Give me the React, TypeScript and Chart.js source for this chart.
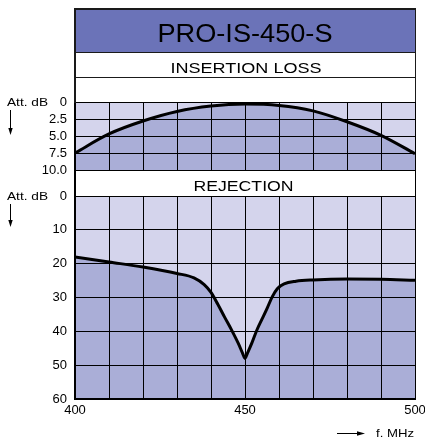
import React, { useEffect, useRef } from 'react';
import { Chart, registerables } from 'chart.js';

Chart.register(...registerables);

// ---- texts ----
const chartTitle = 'PRO-IS-450-S';
const lossTitle = 'INSERTION LOSS';
const rejectionTitle = 'REJECTION';
const yAxisName = 'Att. dB';
const xAxisName = 'f. MHz';

// ---- ticks ----
const freqTicks = [400, 410, 420, 430, 440, 450, 460, 470, 480, 490, 500];
const freqTickLabels = ['400', '', '', '', '', '450', '', '', '', '', '500'];
const lossTicks = [0, 2.5, 5, 7.5, 10];
const lossTickLabels = ['0', '2.5', '5.0', '7.5', '10.0'];
const rejectionTicks = [0, 10, 20, 30, 40, 50, 60];
const rejectionTickLabels = ['0', '10', '20', '30', '40', '50', '60'];

// ---- series ----
const lossFreq = [400, 410, 420, 430, 440, 450, 460, 470, 480, 490, 500];
const lossValues = [7.5, 4.7, 2.8, 1.4, 0.6, 0.3, 0.5, 1.3, 2.9, 4.9, 7.6];

const rejectionFreq = [400, 410, 420, 430, 435, 438, 440, 442, 444, 446, 448, 449.3, 450, 450.7, 452, 453.5, 455, 456.5, 458, 459.5, 461.5, 465, 470, 480, 490, 500];
const rejectionValues = [18.0, 19.5, 21.0, 22.9, 24.2, 26.2, 28.5, 32.0, 35.8, 39.5, 43.5, 46.5, 48.0, 46.5, 43.5, 39.6, 36.4, 33.2, 29.8, 27.4, 26.0, 25.2, 24.8, 24.5, 24.6, 24.9];

const FONT = "'Liberation Sans', Arial, Helvetica, sans-serif";
const LIGHT = '#d4d4ec';
const DARK = '#aaaed7';
const TITLE_BG = '#6b73b8';

function fitText(ctx: CanvasRenderingContext2D, text: string, cx: number, baseline: number, size: number, width: number) {
  ctx.save();
  ctx.font = `${size}px ${FONT}`;
  const w = ctx.measureText(text).width || 1;
  ctx.translate(cx, baseline);
  ctx.scale(width / w, 1);
  ctx.textAlign = 'center';
  ctx.textBaseline = 'alphabetic';
  ctx.fillStyle = '#000';
  ctx.fillText(text, 0, 0);
  ctx.restore();
}

function arrowDown(ctx: CanvasRenderingContext2D, x: number, y1: number, y2: number) {
  ctx.save();
  ctx.strokeStyle = '#000';
  ctx.fillStyle = '#000';
  ctx.lineWidth = 1;
  ctx.beginPath();
  ctx.moveTo(x, y1);
  ctx.lineTo(x, y2 - 5);
  ctx.stroke();
  ctx.beginPath();
  ctx.moveTo(x - 2.2, y2 - 7);
  ctx.lineTo(x + 2.2, y2 - 7);
  ctx.lineTo(x, y2);
  ctx.closePath();
  ctx.fill();
  ctx.restore();
}

function arrowRight(ctx: CanvasRenderingContext2D, x1: number, x2: number, y: number) {
  ctx.save();
  ctx.strokeStyle = '#000';
  ctx.fillStyle = '#000';
  ctx.lineWidth = 1;
  ctx.beginPath();
  ctx.moveTo(x1, y);
  ctx.lineTo(x2 - 5, y);
  ctx.stroke();
  ctx.beginPath();
  ctx.moveTo(x2 - 8, y - 2.2);
  ctx.lineTo(x2 - 8, y + 2.2);
  ctx.lineTo(x2, y);
  ctx.closePath();
  ctx.fill();
  ctx.restore();
}

const decorPlugin = {
  id: 'decor',
  beforeDraw(chart: any) {
    const { ctx, chartArea: ca, scales } = chart;
    ctx.save();
    ctx.fillStyle = LIGHT;
    const yl = scales.yLoss;
    const yr = scales.yRej;
    ctx.fillRect(ca.left, yl.top, ca.right - ca.left, yl.bottom - yl.top);
    ctx.fillRect(ca.left, yr.top, ca.right - ca.left, yr.bottom - yr.top);
    ctx.restore();
  },
  afterDraw(chart: any) {
    const { ctx, chartArea: ca, scales } = chart;
    const L = ca.left;
    const R = ca.right;
    const cx = (L + R) / 2;
    ctx.save();
    // gap band (REJECTION)
    const g = scales.yGap;
    ctx.fillStyle = '#fff';
    ctx.fillRect(L + 1, Math.round(g.top) + 1, R - L - 1, Math.round(g.bottom - g.top) - 1);
    fitText(ctx, rejectionTitle, cx - 1.5, g.top + 20.5, 15, 100);

    // header
    const top = 8;
    const titleBottom = 52;
    const lossBottom = 77;
    ctx.fillStyle = TITLE_BG;
    ctx.fillRect(L, top, R - L, titleBottom - top);
    ctx.strokeStyle = '#1a1a1a';
    ctx.lineWidth = 1;
    ctx.beginPath();
    ctx.moveTo(L, titleBottom + 0.5);
    ctx.lineTo(R, titleBottom + 0.5);
    ctx.moveTo(L, lossBottom + 0.5);
    ctx.lineTo(R, lossBottom + 0.5);
    ctx.moveTo(R + 0.5, top);
    ctx.lineTo(R + 0.5, ca.top);
    ctx.stroke();
    ctx.lineWidth = 2;
    ctx.beginPath();
    ctx.moveTo(L - 1, top + 1);
    ctx.lineTo(R + 1, top + 1);
    ctx.moveTo(L, top);
    ctx.lineTo(L, ca.top + 1);
    ctx.stroke();

    fitText(ctx, chartTitle, cx, 42.3, 25, 175);
    fitText(ctx, lossTitle, cx + 1, 72.5, 15, 151);

    // axis names
    fitText(ctx, yAxisName, 27.5, scales.yLoss.getPixelForValue(0) + 4.3, 11.5, 41);
    fitText(ctx, yAxisName, 27.5, scales.yRej.getPixelForValue(0) + 4.3, 11.5, 41);
    arrowDown(ctx, 10.5, 110, 135);
    arrowDown(ctx, 10.5, 204, 227);
    arrowRight(ctx, 337, 365, 433.5);
    fitText(ctx, xAxisName, 395, 436.5, 11.5, 38);
    ctx.restore();
  },
};

export default function App() {
  const ref = useRef<HTMLCanvasElement | null>(null);

  useEffect(() => {
    if (!ref.current) return;
    const tickFont = { family: FONT, size: 13 };
    const gridCommon = { color: '#000', lineWidth: 1, drawTicks: false, z: 1 };
    const borderCommon = { display: true, color: '#000', width: 2, z: 1 };
    const chart = new Chart(ref.current, {
      type: 'line',
      data: {
        datasets: [
          {
            label: lossTitle,
            data: lossFreq.map((x, i) => ({ x, y: lossValues[i] })),
            xAxisID: 'x',
            yAxisID: 'yLoss',
            borderColor: '#000',
            borderWidth: 3,
            pointRadius: 0,
            cubicInterpolationMode: 'monotone',
            fill: { value: 10 },
            backgroundColor: DARK,
          },
          {
            label: rejectionTitle,
            data: rejectionFreq.map((x, i) => ({ x, y: rejectionValues[i] })),
            xAxisID: 'x',
            yAxisID: 'yRej',
            borderColor: '#000',
            borderWidth: 3,
            pointRadius: 0,
            cubicInterpolationMode: 'monotone',
            fill: { value: 60 },
            backgroundColor: DARK,
          },
        ],
      },
      options: {
        animation: false,
        responsive: true,
        maintainAspectRatio: false,
        layout: { padding: { top: 102, right: 10, bottom: 0, left: 0 } },
        plugins: {
          legend: { display: false },
          tooltip: { enabled: false },
          title: { display: false },
        },
        scales: {
          x: {
            type: 'linear',
            position: 'bottom',
            min: 400,
            max: 500,
            afterBuildTicks: (s: any) => {
              s.ticks = freqTicks.map((v) => ({ value: v }));
            },
            ticks: {
              callback: (v: any) => freqTickLabels[freqTicks.indexOf(Number(v))] ?? '',
              font: tickFont,
              color: '#000',
              padding: 4,
              maxRotation: 0,
              autoSkip: false,
            },
            grid: gridCommon,
            border: borderCommon,
            afterFit: (s: any) => {
              s.height = 38;
              s.paddingLeft = 0;
              s.paddingRight = 0;
            },
          },
          // left stack is placed bottom-up in declaration order
          yRej: {
            type: 'linear',
            position: 'left',
            stack: 'att',
            stackWeight: 203,
            reverse: true,
            min: 0,
            max: 60,
            afterBuildTicks: (s: any) => {
              s.ticks = rejectionTicks.map((v) => ({ value: v }));
            },
            ticks: {
              callback: (v: any) => rejectionTickLabels[rejectionTicks.indexOf(Number(v))] ?? '',
              font: tickFont,
              color: '#000',
              padding: 8,
              autoSkip: false,
            },
            grid: gridCommon,
            border: borderCommon,
            afterFit: (s: any) => {
              s.width = 75;
            },
          },
          yGap: {
            type: 'linear',
            position: 'left',
            stack: 'att',
            stackWeight: 26,
            min: 0,
            max: 1,
            ticks: { display: false },
            grid: { display: false, drawTicks: false },
            border: borderCommon,
            afterFit: (s: any) => {
              s.width = 75;
            },
          },
          yLoss: {
            type: 'linear',
            position: 'left',
            stack: 'att',
            stackWeight: 68,
            reverse: true,
            min: 0,
            max: 10,
            afterBuildTicks: (s: any) => {
              s.ticks = lossTicks.map((v) => ({ value: v }));
            },
            ticks: {
              callback: (v: any) => lossTickLabels[lossTicks.indexOf(Number(v))] ?? '',
              font: tickFont,
              color: '#000',
              padding: 8,
              autoSkip: false,
            },
            grid: gridCommon,
            border: borderCommon,
            afterFit: (s: any) => {
              s.width = 75;
            },
          },
        },
      } as any,
      plugins: [decorPlugin],
    });
    return () => chart.destroy();
  }, []);

  return (
    <div style={{ position: 'absolute', left: 0, top: 0, width: 425, height: 437, background: '#fff' }}>
      <canvas ref={ref} />
    </div>
  );
}
